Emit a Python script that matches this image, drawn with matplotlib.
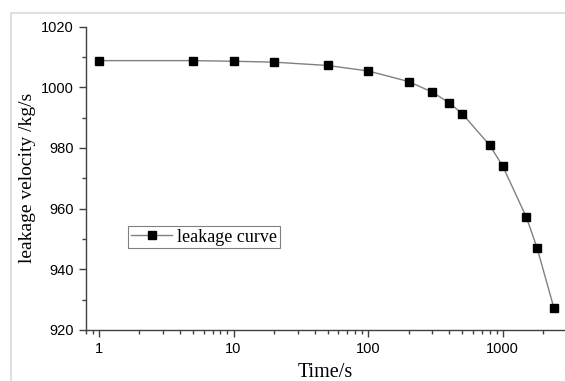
import matplotlib.pyplot as plt
from matplotlib.patches import Rectangle
from matplotlib.ticker import FixedLocator, LogLocator, NullFormatter, MultipleLocator

# leakage data
time_s = [1, 5, 10, 20, 50, 100, 200, 300, 400, 500, 800, 1000, 1500, 1800, 2400]
velocity = [1008.8, 1008.8, 1008.6, 1008.3, 1007.2, 1005.4, 1001.9, 998.4,
            994.9, 991.3, 980.9, 974.0, 957.1, 947.0, 927.2]
x_ticks = [1, 10, 100, 1000]
x_tick_labels = ['1', '10', '100', '1000']
y_ticks = [920, 940, 960, 980, 1000, 1020]

fig = plt.figure(figsize=(5.65, 3.81), dpi=100)
ax = fig.add_axes([0.152, 0.134, 0.848, 0.796])

ax.plot(time_s, velocity, color='#808080', lw=1.0, marker='s', ms=5.5,
        mfc='black', mec='black', label='leakage curve')

ax.set_xscale('log')
ax.set_xlim(0.8, 2900)
ax.set_ylim(920, 1020)
ax.xaxis.set_major_locator(FixedLocator(x_ticks))
ax.set_xticklabels(x_tick_labels)
ax.xaxis.set_minor_locator(LogLocator(base=10, subs=range(2, 10)))
ax.xaxis.set_minor_formatter(NullFormatter())
ax.set_yticks(y_ticks)
ax.yaxis.set_minor_locator(MultipleLocator(10))

for s in ['top', 'right']:
    ax.spines[s].set_visible(False)
for s in ['left', 'bottom']:
    ax.spines[s].set_color('#404040')
    ax.spines[s].set_linewidth(1.0)

ax.tick_params(which='major', direction='out', length=5, width=1, colors='#404040',
               labelsize=10.5, labelcolor='black')
ax.tick_params(which='minor', direction='out', length=3, width=1, colors='#404040')
for lbl in ax.get_xticklabels() + ax.get_yticklabels():
    lbl.set_family('Liberation Sans')

ax.set_xlabel('Time/s', family='Liberation Serif', fontsize=14.5, labelpad=5)
ax.set_ylabel('leakage velocity /kg/s', family='Liberation Serif', fontsize=14, labelpad=4)

leg = ax.legend(loc='upper left', bbox_to_anchor=(0.088, 0.343), borderaxespad=0,
                frameon=True, fancybox=False,
                prop={'family': 'Liberation Serif', 'size': 13},
                handlelength=2.3, borderpad=0.15, handletextpad=0.25)
leg.get_frame().set_edgecolor('#606060')
leg.get_frame().set_linewidth(0.8)

# light gray frame around the picture
fig.patches.append(Rectangle((11 / 565, -0.1), 1.2, (381 - 13) / 381 + 0.1,
                             transform=fig.transFigure, fill=False,
                             edgecolor='#e0e0e0', lw=1.5))

plt.savefig('out.png', dpi=100)
